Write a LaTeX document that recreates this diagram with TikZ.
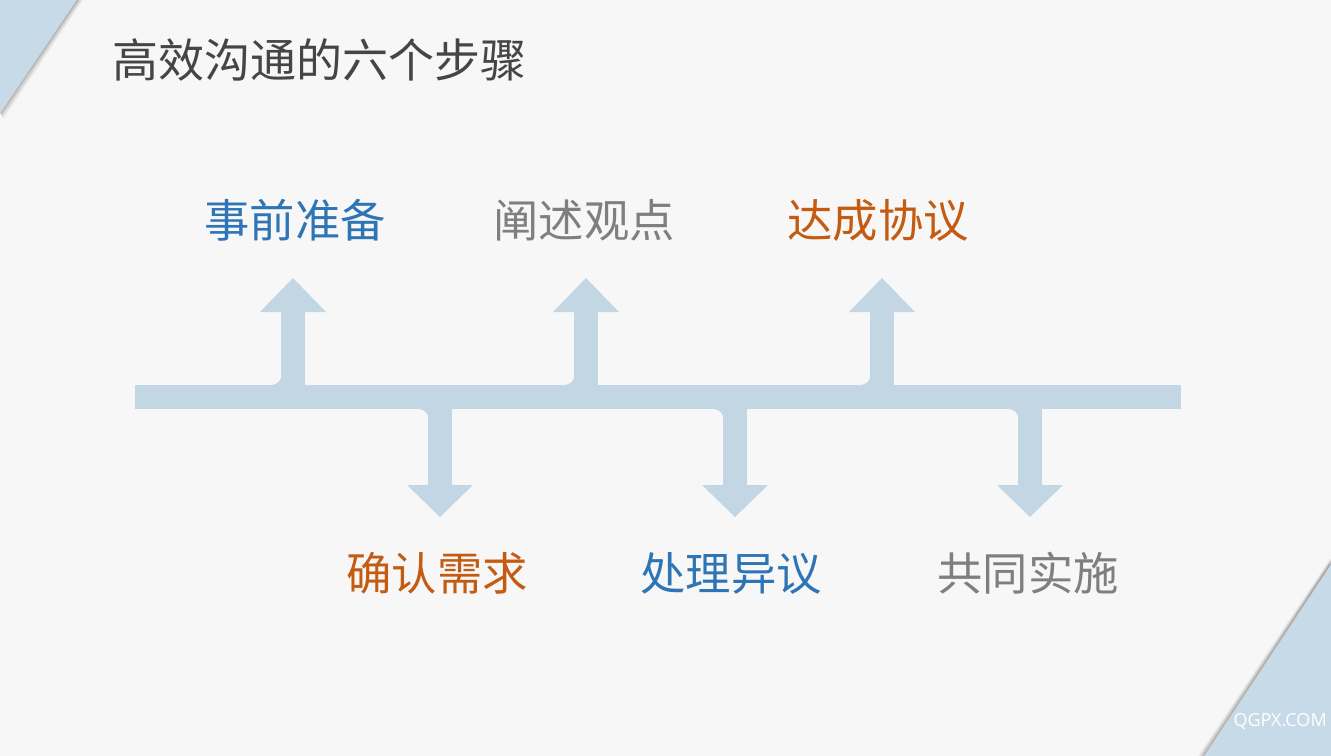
\documentclass[tikz,border=0pt]{standalone}
\usepackage{fontspec}
\newfontfamily\cjk{Noto Sans CJK SC}
\newfontfamily\latin{Open Sans}
\definecolor{bgc}{HTML}{F7F7F7}
\definecolor{barc}{HTML}{C3D6E4}
\definecolor{bandc}{HTML}{C6DAE8}
\definecolor{bluet}{HTML}{2E75B6}
\definecolor{grayt}{HTML}{7F7F7F}
\definecolor{oranget}{HTML}{C55A11}
\definecolor{titlec}{HTML}{454545}
\tikzset{
  bar/.style={draw=barc, line width=18pt},
  stem/.style={draw=barc, line width=17.5pt},
  head/.style={fill=barc, draw=none},
  fillet/.style={fill=barc, draw=none},
  steplabel/.style={font=\cjk\fontsize{34}{40}\selectfont, inner sep=0pt},
  band/.style={fill=bandc, draw=none}
}
\begin{document}
\begin{tikzpicture}[x=0.75pt,y=-0.75pt]
\useasboundingbox (0,0) rectangle (1331,756);
\fill[bgc] (0,0) rectangle (1331,756);
% corner bands with soft shadows
\foreach \o/\a in {6/0.03,5/0.04,4/0.06,3/0.08,2/0.11,1/0.15}{
  \draw[black, opacity=\a, line width=1.5pt] (76+\o,0) -- (0+\o*0.5,112+\o);
  \draw[black, opacity=\a, line width=1.5pt] (1331,565-\o) -- (1205-\o,756);
}
\fill[band] (0,0) -- (76,0) -- (0,112) -- cycle;
\fill[band] (1331,565) -- (1331,756) -- (1205,756) -- cycle;
\node[anchor=east, text=white, font=\latin\fontsize{13.5}{16}\selectfont, inner sep=0pt] (wm) at (1327,721) {QGPX.COM};
% title
\node[anchor=west, text=titlec, font=\cjk\fontsize{34.5}{40}\selectfont, inner sep=0pt] (title) at (112,60) {高效沟通的六个步骤};
% main bar
\coordinate (L) at (135,397);
\coordinate (R) at (1181,397);
\draw[bar] (L) -- (R);
% up arrows
\foreach \n/\x in {u1/293,u2/586,u3/882}{
  \coordinate (\n root) at (\x,397);
  \coordinate (\n base) at (\x,311);
  \draw[stem] (\n root) -- (\n base);
  \fill[fillet] (\x-11.5-10,385) .. controls (\x-11.5-4.5,385) and (\x-11.5,380.5) .. (\x-11.5,375) -- (\x-11.5,386) -- (\x-21.5,386) -- cycle;
  \fill[head] (\x-33,312) -- (\x,278) -- (\x+33,312) -- cycle;
}
% down arrows
\foreach \n/\x in {d1/440,d2/735,d3/1030}{
  \coordinate (\n root) at (\x,397);
  \coordinate (\n base) at (\x,486);
  \draw[stem] (\n root) -- (\n base);
  \fill[fillet] (\x-11.5-10,409) .. controls (\x-11.5-4.5,409) and (\x-11.5,413.5) .. (\x-11.5,419) -- (\x-11.5,408) -- (\x-21.5,408) -- cycle;
  \fill[head] (\x-33,485) -- (\x,517) -- (\x+33,485) -- cycle;
}
% labels
\node[steplabel, text=bluet] (s1) at (295,220) {事前准备};
\node[steplabel, text=grayt] (s3) at (584,220) {阐述观点};
\node[steplabel, text=oranget] (s5) at (878,220) {达成协议};
\node[steplabel, text=oranget] (s2) at (437,573) {确认需求};
\node[steplabel, text=bluet] (s4) at (731,573) {处理异议};
\node[steplabel, text=grayt] (s6) at (1028,573) {共同实施};
\end{tikzpicture}
\end{document}
